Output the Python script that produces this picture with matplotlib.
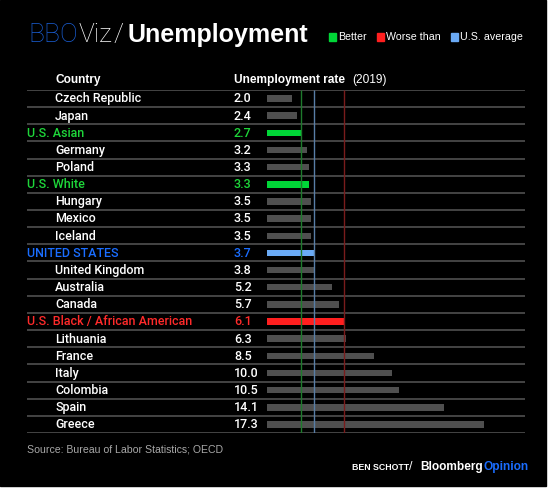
import matplotlib
matplotlib.use("Agg")
import matplotlib.pyplot as plt
from matplotlib import transforms
from matplotlib.patches import Rectangle

plt.rcParams["font.family"] = ["Liberation Sans", "DejaVu Sans"]

# ---- data ----
countries = [
    "Czech Republic", "Japan", "U.S. Asian", "Germany", "Poland", "U.S. White",
    "Hungary", "Mexico", "Iceland", "UNITED STATES", "United Kingdom", "Australia",
    "Canada", "U.S. Black / African American", "Lithuania", "France", "Italy",
    "Colombia", "Spain", "Greece",
]
rates = [2.0, 2.4, 2.7, 3.2, 3.3, 3.3, 3.5, 3.5, 3.5, 3.7, 3.8, 5.2,
         5.7, 6.1, 6.3, 8.5, 10.0, 10.5, 14.1, 17.3]
groups = ["", "", "better", "", "", "better", "", "", "", "us", "", "",
          "", "worse", "", "", "", "", "", ""]
ref_lines = {"better": 2.7, "us": 3.7, "worse": 6.1}

BAR_COL = {"": "#4f4f4f", "better": "#00d637", "worse": "#ff1f1f", "us": "#6aaaf5"}
TXT_COL = {"": "white", "better": "#1ed63a", "worse": "#ff2a2a", "us": "#1a6dff"}
REF_COL = {"better": "#1e7a2c", "us": "#587ea6", "worse": "#7a1c1c"}

ROW_FONT = dict(family=["Roboto", "Liberation Sans"], fontweight="medium", fontsize=9)

W, H = 550, 488
fig = plt.figure(figsize=(W / 100, H / 100), dpi=100, facecolor="white")
fig.add_artist(Rectangle((0, 2 / H), 546 / W, 486 / H, transform=fig.transFigure,
                         color="black", zorder=-5))


def fx(px):
    return px / W


def fy(py):
    return 1 - py / H


# table axes: x from 27px to 525px, rows from 90px to 433px; zero of bars at 267.5px
x0, x1, xz, ppu = 27, 525, 267.5, 12.5
ax = fig.add_axes([fx(x0), fy(433), (x1 - x0) / W, (433 - 90) / H])
ax.set_xlim((x0 - xz) / ppu, (x1 - xz) / ppu)
n = len(countries)
ax.set_ylim(n - 0.5, -0.5)
ax.axis("off")

for i in range(n + 1):
    ax.axhline(i - 0.5, color="#4a4a4a", lw=1.3, zorder=1)

ax.barh(range(n), rates, height=0.38, color=[BAR_COL[g] for g in groups], zorder=2)

for g, v in ref_lines.items():
    ax.vlines(v, -0.5, n - 0.5, color=REF_COL[g], lw=1, zorder=3)

tr = transforms.blended_transform_factory(fig.transFigure, ax.transData)
for i, (c, v, g) in enumerate(zip(countries, rates, groups)):
    xl = 27 if g else 55
    ax.text(fx(xl), i + 0.02, c, transform=tr, color=TXT_COL[g],
            va="center", ha="left", **ROW_FONT)
    ax.text(fx(234), i + 0.02, f"{v:.1f}", transform=tr, color=TXT_COL[g],
            va="center", ha="left", **ROW_FONT)

# header
fig.text(fx(55), fy(80), "Country", color="white", fontsize=8.6, fontweight="bold",
         va="center")
fig.text(fx(234), fy(80), "Unemployment rate", color="white", fontsize=8.6,
         fontweight="bold", va="center")
fig.text(fx(352), fy(80), "(2019)", color="white", fontsize=8.6, va="center")

# title
fig.canvas.draw()
r = fig.canvas.get_renderer()


def seq(x, y, parts):
    for s, col, gap, kw in parts:
        t = fig.text(fx(x), fy(y), s, color=col, va="baseline", **kw)
        x = t.get_window_extent(r).x1 + gap
    return x


LIGHT = dict(fontsize=19, family=["Roboto", "DejaVu Sans"], fontweight="light")
seq(28, 42, [
    ("BBO", "#1a5fd6", 1, LIGHT),
    ("Viz", "white", 1, LIGHT),
    ("/", "white", 4, LIGHT),
    ("Unemployment", "white", 0, dict(fontsize=18, fontweight="bold")),
])

# legend
for xs, col, lab in [(329, "#00d637", "Better"), (377, "#ff1f1f", "Worse than"),
                     (451, "#6aaaf5", "U.S. average")]:
    fig.add_artist(Rectangle((fx(xs), fy(40.5)), 7 / W, 7 / H, transform=fig.transFigure,
                             color=col))
    fig.text(fx(xs + 9), fy(37), lab, color="white", fontsize=7.7, va="center")

# footer
fig.text(fx(27), fy(449), "Source: Bureau of Labor Statistics; OECD", color="#a8a8a8",
         fontsize=7.6, va="center")
seq(352, 470, [
    ("BEN SCHOTT", "white", 0, dict(fontsize=6.3, fontweight="bold")),
    ("/", "white", 0, dict(fontsize=9)),
])
seq(420, 470, [
    ("Bloomberg", "white", 1, dict(fontsize=8.6, fontweight="bold")),
    ("Opinion", "#1a6dff", 0, dict(fontsize=8.6, fontweight="bold")),
])

fig.savefig("out.png", dpi=100, facecolor="white")
